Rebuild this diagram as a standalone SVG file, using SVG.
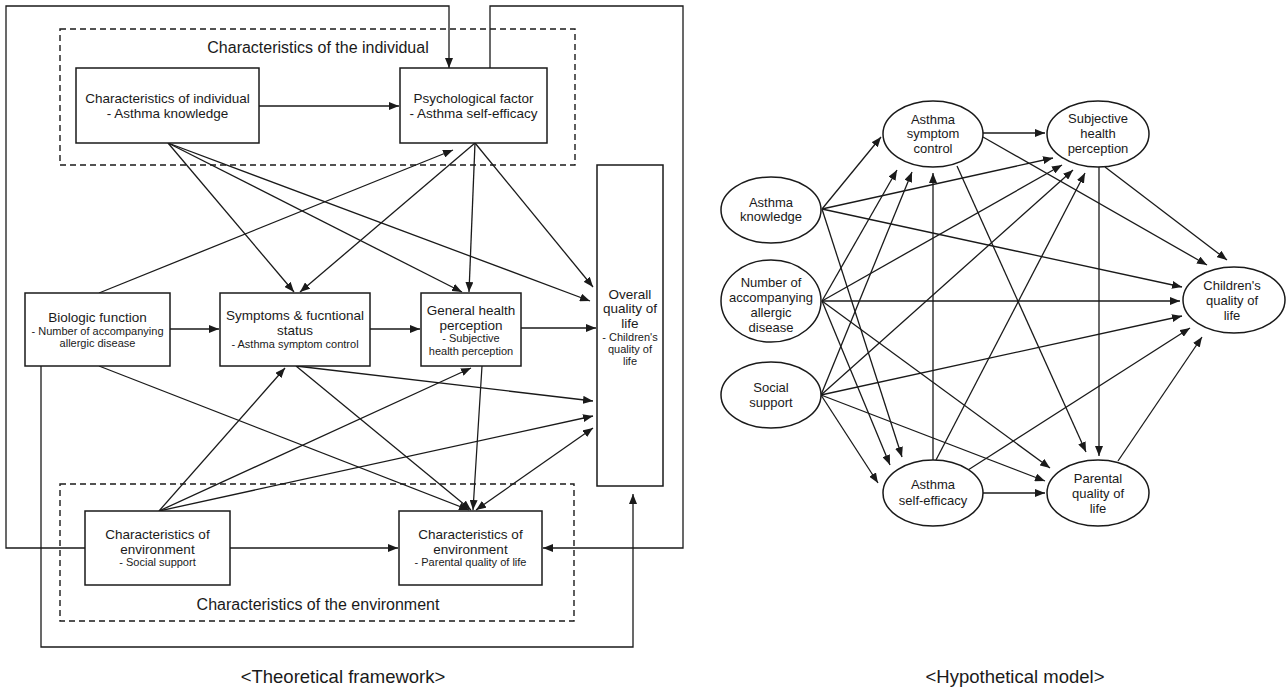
<svg xmlns="http://www.w3.org/2000/svg" width="1288" height="689" viewBox="0 0 1288 689">
<defs>
<marker id="ah" viewBox="0 0 10 8" refX="10" refY="4" markerWidth="10" markerHeight="8" markerUnits="userSpaceOnUse" orient="auto-start-reverse"><path d="M0,0 L10,4 L0,8 z" fill="#1a1a1a"/></marker>
<style>
.box{fill:#fff;stroke:#1a1a1a;stroke-width:1.5}
.dash{fill:none;stroke:#1a1a1a;stroke-width:1.4;stroke-dasharray:6,4}
.ell{fill:#fff;stroke:#1a1a1a;stroke-width:1.5}
.c line,.c path{stroke:#1a1a1a;stroke-width:1.3;fill:none;marker-end:url(#ah)}
.c .nm{marker-end:none}
text{font-family:"Liberation Sans",Arial,sans-serif;fill:#1a1a1a;text-anchor:middle}
.t{font-size:13.5px}
.s{font-size:11px}
.g{font-size:16px}
.r{font-size:13px}
.cap{font-size:18.5px}
</style>
</defs>
<rect width="1288" height="689" fill="#fff"/>

<!-- Left: theoretical framework -->
<g id="group-individual"><rect class="dash" x="60" y="29" width="515" height="136"/><text class="g" x="318" y="52.5">Characteristics of the individual</text></g>
<g id="group-environment"><rect class="dash" x="60" y="484" width="514" height="137"/><text class="g" x="318" y="609.5">Characteristics of the environment</text></g>

<g id="connectors-left" class="c">
<path d="M85,548 H6 V6 H449 V68"/>
<path d="M490,68 V6 H683 V548 H543"/>
<path d="M41,366 V647 H633 V494"/>
<line x1="259" y1="106" x2="399" y2="106"/>
<line x1="170" y1="329" x2="219" y2="329"/>
<line x1="370" y1="329" x2="420" y2="329"/>
<line x1="521" y1="328" x2="596" y2="328"/>
<line x1="230" y1="548" x2="398" y2="548"/>
<line x1="168" y1="143" x2="294" y2="292"/>
<line x1="168" y1="143" x2="462" y2="292"/>
<line x1="168" y1="143" x2="590" y2="301"/>
<line x1="475" y1="143" x2="300" y2="292"/>
<line x1="475" y1="143" x2="469" y2="292"/>
<line x1="475" y1="143" x2="593" y2="287"/>
<line x1="99" y1="293" x2="453" y2="150"/>
<line x1="99" y1="366" x2="469" y2="510"/>
<line x1="296" y1="366" x2="593" y2="401"/>
<line x1="296" y1="366" x2="471" y2="510"/>
<line x1="482" y1="366" x2="473" y2="510"/>
<line x1="159" y1="511" x2="285" y2="368"/>
<line x1="159" y1="511" x2="471" y2="368"/>
<line x1="159" y1="511" x2="593" y2="416"/>
<line x1="476" y1="510" x2="593" y2="428" style="marker-start:url(#ah)"/>
</g>

<g id="node-knowledge"><rect class="box" x="76" y="68" width="183" height="75"/><text class="t" x="167.5" y="102.5">Characteristics of individual</text><text class="t" x="167.5" y="117.5">- Asthma knowledge</text></g>
<g id="node-psych"><rect class="box" x="400" y="68" width="147" height="75"/><text class="t" x="473.5" y="102.5">Psychological factor</text><text class="t" x="473.5" y="117.5">- Asthma self-efficacy</text></g>
<g id="node-biologic"><rect class="box" x="25" y="293" width="145" height="73"/><text class="t" x="97.5" y="321.5">Biologic function</text><text class="s" x="97.5" y="335">- Number of accompanying</text><text class="s" x="97.5" y="347">allergic disease</text></g>
<g id="node-symptoms"><rect class="box" x="220" y="293" width="150" height="73"/><text class="t" x="295" y="319.5">Symptoms &amp; fucntional</text><text class="t" x="295" y="334.5">status</text><text class="s" x="295" y="348">- Asthma symptom control</text></g>
<g id="node-general"><rect class="box" x="421" y="293" width="100" height="73"/><text class="t" x="471" y="314.5">General health</text><text class="t" x="471" y="329.5">perception</text><text class="s" x="471" y="342">- Subjective</text><text class="s" x="471" y="355">health perception</text></g>
<g id="node-overall"><rect class="box" x="597" y="165" width="66" height="321"/><text class="t" x="630" y="298.5">Overall</text><text class="t" x="630" y="313">quality of</text><text class="t" x="630" y="327.5">life</text><text class="s" x="630" y="341">- Children's</text><text class="s" x="630" y="353">quality of</text><text class="s" x="630" y="365">life</text></g>
<g id="node-social"><rect class="box" x="85" y="511" width="145" height="74"/><text class="t" x="157.5" y="538.5">Characteristics of</text><text class="t" x="157.5" y="553.5">environment</text><text class="s" x="157.5" y="566">- Social support</text></g>
<g id="node-parental"><rect class="box" x="399" y="511" width="143" height="74"/><text class="t" x="470.5" y="538.5">Characteristics of</text><text class="t" x="470.5" y="553.5">environment</text><text class="s" x="470.5" y="566">- Parental quality of life</text></g>

<text class="cap" x="343" y="683">&lt;Theoretical framework&gt;</text>

<!-- Right: hypothetical model -->
<g id="connectors-right" class="c">
<line x1="822" y1="209" x2="881" y2="137"/>
<line x1="822" y1="209" x2="1053" y2="158"/>
<line x1="822" y1="209" x2="1182" y2="287"/>
<line x1="822" y1="209" x2="902" y2="457"/>
<line x1="822" y1="301" x2="897" y2="170"/>
<line x1="822" y1="301" x2="1062" y2="165"/>
<line x1="822" y1="301" x2="1180" y2="301"/>
<line x1="822" y1="301" x2="890" y2="465"/>
<line x1="822" y1="301" x2="1050" y2="468"/>
<line x1="821" y1="395" x2="912" y2="172"/>
<line x1="821" y1="395" x2="1073" y2="170"/>
<line x1="821" y1="395" x2="1182" y2="316"/>
<line x1="821" y1="395" x2="878" y2="483"/>
<line x1="821" y1="395" x2="1045" y2="481"/>
<line x1="933" y1="460" x2="933" y2="173"/>
<line x1="936" y1="460" x2="1085" y2="173"/>
<line x1="968" y1="470" x2="1190" y2="328"/>
<line x1="983" y1="493" x2="1045" y2="493"/>
<line x1="983" y1="133" x2="1045" y2="133"/>
<line x1="983" y1="137" x2="1207" y2="265"/>
<line x1="957" y1="166" x2="1086" y2="452"/>
<line x1="1105" y1="167" x2="1227" y2="260"/>
<line x1="1099" y1="167" x2="1099" y2="456"/>
<line x1="1118" y1="461" x2="1202" y2="337"/>
</g>

<g id="node-asc"><ellipse class="ell" cx="933" cy="134" rx="50" ry="33"/><text class="r" x="933" y="123.5">Asthma</text><text class="r" x="933" y="138">symptom</text><text class="r" x="933" y="152.5">control</text></g>
<g id="node-shp"><ellipse class="ell" cx="1098" cy="134" rx="51" ry="33"/><text class="r" x="1098" y="123">Subjective</text><text class="r" x="1098" y="138">health</text><text class="r" x="1098" y="152.5">perception</text></g>
<g id="node-ak"><ellipse class="ell" cx="771" cy="210" rx="50" ry="33"/><text class="r" x="771" y="206.5">Asthma</text><text class="r" x="771" y="221">knowledge</text></g>
<g id="node-naad"><ellipse class="ell" cx="771" cy="301" rx="50" ry="41"/><text class="r" x="771" y="286.5">Number of</text><text class="r" x="771" y="301.5">accompanying</text><text class="r" x="771" y="316.5">allergic</text><text class="r" x="771" y="331.5">disease</text></g>
<g id="node-cql"><ellipse class="ell" cx="1234" cy="300" rx="51" ry="33"/><text class="r" x="1232" y="289.5">Children's</text><text class="r" x="1232" y="305">quality of</text><text class="r" x="1232" y="320">life</text></g>
<g id="node-ss"><ellipse class="ell" cx="771" cy="395" rx="50" ry="33"/><text class="r" x="771" y="391.5">Social</text><text class="r" x="771" y="406.5">support</text></g>
<g id="node-ase"><ellipse class="ell" cx="933" cy="493" rx="50" ry="33"/><text class="r" x="933" y="488.5">Asthma</text><text class="r" x="933" y="504.5">self-efficacy</text></g>
<g id="node-pql"><ellipse class="ell" cx="1098" cy="493" rx="51" ry="33"/><text class="r" x="1098" y="482.5">Parental</text><text class="r" x="1098" y="497.5">quality of</text><text class="r" x="1098" y="512.5">life</text></g>

<text class="cap" x="1015" y="683">&lt;Hypothetical model&gt;</text>
</svg>
